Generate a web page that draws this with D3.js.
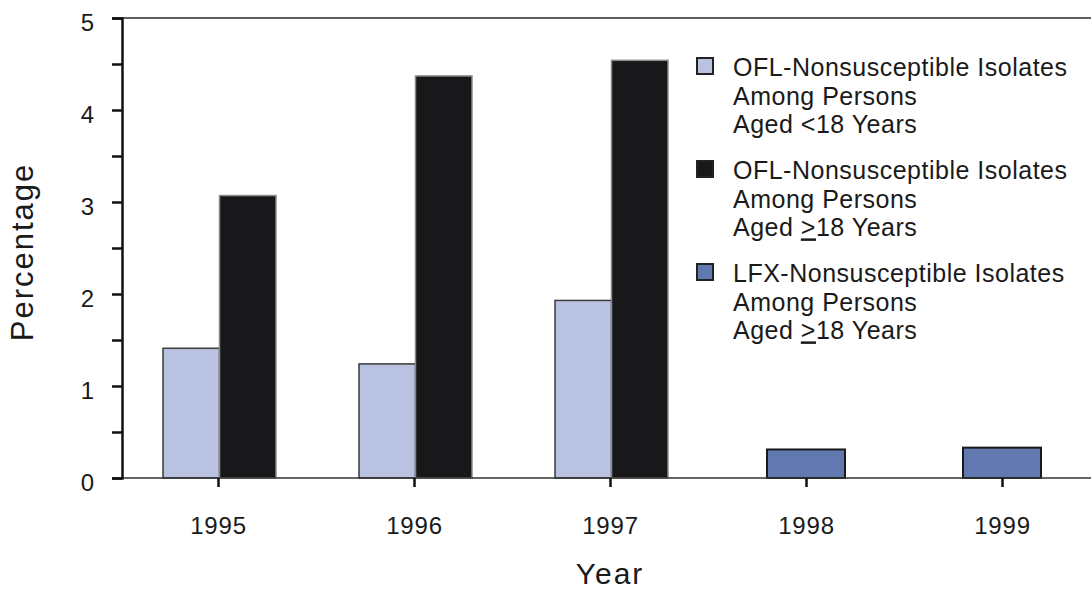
<!DOCTYPE html>
<html>
<head>
<meta charset="utf-8">
<script src="https://cdn.jsdelivr.net/npm/d3@7"></script>
<style>
  html, body { margin: 0; padding: 0; background: #fff; }
  svg { display: block; font-family: "Liberation Sans", Arial, Helvetica, sans-serif; }
</style>
</head>
<body>
<svg id="chart" width="1091" height="592"></svg>
<script>
// ---- Data ----
const years = ["1995", "1996", "1997", "1998", "1999"];
const oflUnder18 = [1.41, 1.24, 1.93, null, null];
const oflOver18 = [3.07, 4.37, 4.54, null, null];
const lfxOver18 = [null, null, null, 0.31, 0.33];
const yTicks = [0, 1, 2, 3, 4, 5];
const yMinorTicks = [0.5, 1.5, 2.5, 3.5, 4.5];
const seriesNames = ["oflUnder18", "oflOver18", "lfxOver18"];
const legendLines = [
  ["OFL-Nonsusceptible Isolates", "Among Persons", "Aged <18 Years"],
  ["OFL-Nonsusceptible Isolates", "Among Persons", "Aged \u2265 18 Years"],
  ["LFX-Nonsusceptible Isolates", "Among Persons", "Aged \u2265 18 Years"]
];

const colors = { oflUnder18: "#b9c2e1", oflOver18: "#18181a", lfxOver18: "#6279af" };
const strokes = { oflUnder18: "#3a3a3a", oflOver18: "#8a8a8a", lfxOver18: "#1a1a1a" };

const svg = d3.select("#chart");
const plotLeft = 122, plotRight = 1091, plotTop = 18, plotBottom = 478;

const y = d3.scaleLinear().domain([0, 5]).range([plotBottom, plotTop]);
const x = d3.scalePoint().domain(years).range([218, 1002]);
const inner = d3.scaleBand().domain(["oflUnder18", "oflOver18"]).range([-55, 58]).padding(0);
const singleWidth = 78;

// Top frame line
svg.append("line").attr("x1", plotLeft).attr("x2", plotRight)
  .attr("y1", y(5)).attr("y2", y(5))
  .attr("stroke", "#2a2a2a").attr("stroke-width", 1.5);

// Bars
const barData = [];
years.forEach((yr, i) => {
  if (oflUnder18[i] != null) barData.push({ yr, s: "oflUnder18", v: oflUnder18[i], x0: x(yr) + inner("oflUnder18"), w: inner.bandwidth() });
  if (oflOver18[i] != null) barData.push({ yr, s: "oflOver18", v: oflOver18[i], x0: x(yr) + inner("oflOver18"), w: inner.bandwidth() });
  if (lfxOver18[i] != null) barData.push({ yr, s: "lfxOver18", v: lfxOver18[i], x0: x(yr) - singleWidth / 2, w: singleWidth });
});

svg.append("g").selectAll("rect").data(barData).join("rect")
  .attr("x", d => d.x0)
  .attr("y", d => y(d.v))
  .attr("width", d => d.w)
  .attr("height", d => y(0) - y(d.v))
  .attr("fill", d => colors[d.s])
  .attr("stroke", d => strokes[d.s])
  .attr("stroke-width", d => d.s === "lfxOver18" ? 2 : 1.5);

// Bottom baseline
svg.append("line").attr("x1", plotLeft).attr("x2", plotRight)
  .attr("y1", y(0)).attr("y2", y(0))
  .attr("stroke", "#333").attr("stroke-width", 1.5);

// Y axis
const yAxis = d3.axisLeft(y).tickValues(yTicks).tickSize(10).tickPadding(18).tickFormat(d3.format("d"));
const gy = svg.append("g").attr("transform", `translate(${plotLeft},0)`).call(yAxis);
gy.attr("font-size", null).attr("font-family", null);
gy.select(".domain").attr("stroke", "#111").attr("stroke-width", 2.5);
gy.selectAll(".tick line").attr("stroke", "#111").attr("stroke-width", 2.5);
gy.selectAll(".tick text").style("font-size", "24px").attr("fill", "#1a1a1a")
  .style("font-family", "Liberation Sans, Arial, sans-serif").attr("dy", "0.5em");
const yMinor = d3.axisLeft(y).tickValues(yMinorTicks).tickSize(10).tickFormat("");
const gym = svg.append("g").attr("transform", `translate(${plotLeft},0)`).call(yMinor);
gym.select(".domain").remove();
gym.selectAll(".tick line").attr("stroke", "#111").attr("stroke-width", 2.5);

// X axis
const xAxis = d3.axisBottom(x).tickSize(9).tickPadding(0).tickSizeOuter(0);
const gx = svg.append("g").attr("transform", `translate(0,${plotBottom})`).call(xAxis);
gx.attr("font-size", null).attr("font-family", null);
gx.select(".domain").remove();
gx.selectAll(".tick line").attr("stroke", "#111").attr("stroke-width", 2.5);
gx.selectAll(".tick text").style("font-size", "24px").attr("fill", "#1a1a1a")
  .style("font-family", "Liberation Sans, Arial, sans-serif")
  .attr("letter-spacing", "0.8px")
  .attr("y", 56).attr("dy", 0);

// Axis titles
svg.append("text").attr("transform", "translate(33,252) rotate(-90)")
  .attr("text-anchor", "middle").attr("font-size", 31).attr("letter-spacing", "2px")
  .attr("fill", "#1a1a1a").text("Percentage");
svg.append("text").attr("x", 610).attr("y", 584)
  .attr("text-anchor", "middle").attr("font-size", 30).attr("letter-spacing", "2px")
  .attr("fill", "#1a1a1a").text("Year");

// Legend
const legend = svg.append("g");
seriesNames.forEach((s, i) => {
  const g = legend.append("g").attr("transform", `translate(697,${58 + i * 103})`);
  g.append("rect").attr("x", 0).attr("y", 0).attr("width", 16).attr("height", 16)
    .attr("fill", colors[s]).attr("stroke", "#222").attr("stroke-width", 2);
  legendLines[i].forEach((line, j) => {
    const t = g.append("text").attr("x", 36).attr("y", 18 + j * 28.7)
      .attr("font-size", 25).attr("letter-spacing", "0.5px").attr("fill", "#1a1a1a");
    if (line.indexOf("\u2265") >= 0) {
      const parts = line.split("\u2265 ");
      t.append("tspan").text(parts[0]);
      t.append("tspan").attr("text-decoration", "underline").text(">");
      t.append("tspan").text(parts[1]);
    } else {
      t.text(line);
    }
  });
});
</script>
</body>
</html>
